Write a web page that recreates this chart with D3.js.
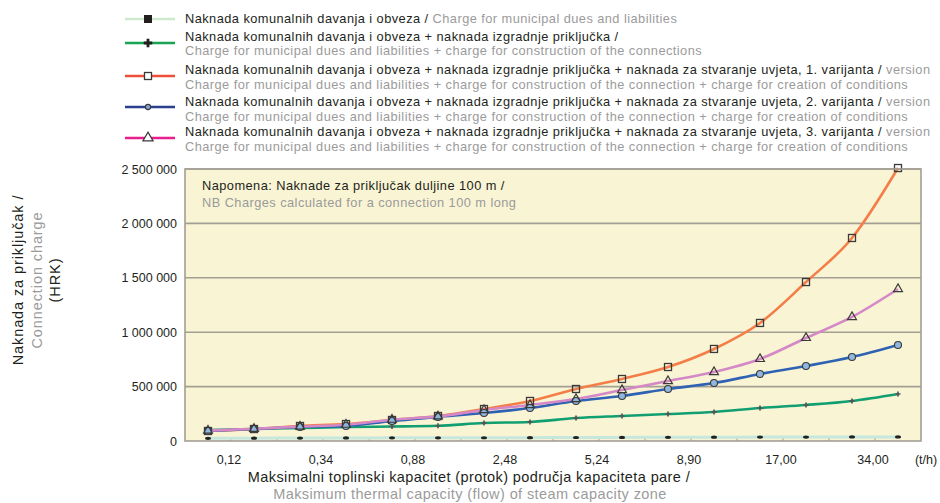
<!DOCTYPE html>
<html>
<head>
<meta charset="utf-8">
<script src="https://cdn.jsdelivr.net/npm/d3@7"></script>
<style>
  body { margin: 0; background: #fff; }
  text { font-family: "Liberation Sans", Arial, Helvetica, sans-serif; }
</style>
</head>
<body>
<div id="chart"></div>
<script>
// data (values in HRK)
const xTickLabels = ["0,12", "0,34", "0,88", "2,48", "5,24", "8,90", "17,00", "34,00"];
const yTicks = [0, 500000, 1000000, 1500000, 2000000, 2500000];

const municipal = [25000, 26000, 27000, 28000, 29000, 29000, 30000, 31000, 32000, 33000, 34000, 35000, 36000, 36000, 37000, 37000];
const withConnection = [101000, 110000, 119000, 129000, 133000, 140000, 165000, 175000, 211000, 230000, 248000, 267000, 303000, 331000, 368000, 432000];
const variant1 = [92000, 110000, 138000, 156000, 193000, 230000, 294000, 368000, 478000, 570000, 680000, 846000, 1085000, 1461000, 1866000, 2509000];
const variant2 = [92000, 110000, 129000, 138000, 184000, 221000, 257000, 303000, 368000, 414000, 478000, 533000, 616000, 689000, 772000, 882000];
const variant3 = [95000, 112000, 132000, 150000, 196000, 226000, 285000, 331000, 386000, 469000, 551000, 634000, 754000, 947000, 1140000, 1397000];

const legendHr = [
  "Naknada komunalnih davanja i obveza / ",
  "Naknada komunalnih davanja i obveza + naknada izgradnje priključka /",
  "Naknada komunalnih davanja i obveza + naknada izgradnje priključka + naknada za stvaranje uvjeta, 1. varijanta / ",
  "Naknada komunalnih davanja i obveza + naknada izgradnje priključka + naknada za stvaranje uvjeta, 2. varijanta / ",
  "Naknada komunalnih davanja i obveza + naknada izgradnje priključka + naknada za stvaranje uvjeta, 3. varijanta / "
];
const legendEnTail = ["Charge for municipal dues and liabilities", "", "version", "version", "version"];
const legendEn = [
  null,
  "Charge for municipal dues and liabilities + charge for construction of the connections",
  "Charge for municipal dues and liabilities + charge for construction of the connection + charge for creation of conditions",
  "Charge for municipal dues and liabilities + charge for construction of the connection + charge for creation of conditions",
  "Charge for municipal dues and liabilities + charge for construction of the connection + charge for creation of conditions"
];

const BLACK = "#231f20", GREY = "#9b9b9b";

const series = [
  { values: municipal,      line: "#c6e7dd", legendLine: "#cfe9cf", marker: "dash" },
  { values: withConnection, line: "#119f72", legendLine: "#17a455", marker: "plus" },
  { values: variant1,       line: "#f47d48", legendLine: "#ef4f3a", marker: "square" },
  { values: variant2,       line: "#2f62b3", legendLine: "#2b3f8f", marker: "circle" },
  { values: variant3,       line: "#d489c6", legendLine: "#ea1f8d", marker: "triangle" }
];

const W = 940, H = 503;
const plot = { left: 185, right: 921, top: 169, bottom: 441 };

const svg = d3.select("#chart").append("svg")
  .attr("width", W)
  .attr("height", H);

const n = municipal.length;
const x = d3.scaleLinear().domain([0, n]).range([plot.left, plot.right]);
const y = d3.scaleLinear().domain([0, 2500000]).range([plot.bottom, plot.top]);

const fmt = d3.formatLocale({ decimal: ",", thousands: " ", grouping: [3], currency: ["", ""] }).format(",d");

// plot background
svg.append("rect")
  .attr("x", plot.left).attr("y", plot.top)
  .attr("width", plot.right - plot.left).attr("height", plot.bottom - plot.top)
  .attr("fill", "#f9f4d4");

// grid lines
svg.append("g").selectAll("line")
  .data(yTicks.filter(d => d > 0))
  .join("line")
  .attr("x1", plot.left).attr("x2", plot.right)
  .attr("y1", d => y(d)).attr("y2", d => y(d))
  .attr("stroke", "#a39f94").attr("stroke-width", 1.6);

// y axis labels
svg.append("g").selectAll("text")
  .data(yTicks)
  .join("text")
  .attr("x", 177).attr("y", d => y(d) + 4.5)
  .attr("text-anchor", "end")
  .attr("font-size", 12.5)
  .attr("fill", BLACK)
  .text(d => fmt(d));

// small category ticks at the bottom
svg.append("g").selectAll("line")
  .data(d3.range(1, n))
  .join("line")
  .attr("x1", d => x(d)).attr("x2", d => x(d))
  .attr("y1", plot.bottom).attr("y2", plot.bottom - 4)
  .attr("stroke", "#a39f94").attr("stroke-width", 1);

// x labels at every second boundary
svg.append("g").selectAll("text")
  .data(xTickLabels)
  .join("text")
  .attr("x", (d, i) => x(2 * i + 1) - 2)
  .attr("y", 464)
  .attr("text-anchor", "middle")
  .attr("font-size", 12.5)
  .attr("fill", BLACK)
  .text(d => d);

svg.append("text")
  .attr("x", 926).attr("y", 464)
  .attr("text-anchor", "middle")
  .attr("font-size", 12.5)
  .attr("fill", BLACK)
  .text("(t/h)");

// lines
const line = d3.line()
  .x((d, i) => x(i + 0.5))
  .y(d => y(d))
  .curve(d3.curveMonotoneX);

series.forEach(s => {
  svg.append("path")
    .datum(s.values)
    .attr("fill", "none")
    .attr("stroke", s.line)
    .attr("stroke-width", s.marker === "dash" ? 3 : 2.6)
    .attr("stroke-linejoin", "round")
    .attr("d", line);
});

// markers
function drawMarker(g, type, px, py, size, inLegend) {
  const dark = "#3a3a3a";
  if (type === "dash") {
    if (inLegend) {
      g.append("rect").attr("x", px - 4).attr("y", py - 4).attr("width", 8).attr("height", 8).attr("fill", BLACK);
    } else {
      g.append("ellipse").attr("cx", px).attr("cy", py).attr("rx", 3).attr("ry", 1.6).attr("fill", "#222");
    }
  } else if (type === "plus") {
    g.append("path")
      .attr("transform", `translate(${px},${py})`)
      .attr("d", d3.symbol(d3.symbolCross, inLegend ? 40 : 14)())
      .attr("fill", inLegend ? BLACK : "#555");
  } else if (type === "square") {
    g.append("rect")
      .attr("x", px - size / 2).attr("y", py - size / 2)
      .attr("width", size).attr("height", size)
      .attr("fill", inLegend ? "#fff" : "none")
      .attr("stroke", dark).attr("stroke-width", 1.3);
  } else if (type === "circle") {
    g.append("circle")
      .attr("cx", px).attr("cy", py).attr("r", inLegend ? 2.6 : size / 2)
      .attr("fill", inLegend ? "#8aa4d4" : "#8fb6de")
      .attr("stroke", dark).attr("stroke-width", 1.1);
  } else if (type === "triangle") {
    g.append("path")
      .attr("transform", `translate(${px},${py})`)
      .attr("d", d3.symbol(d3.symbolTriangle, inLegend ? 45 : 34)())
      .attr("fill", inLegend ? "#fff" : "none")
      .attr("stroke", dark).attr("stroke-width", 1.2);
  }
}

const markerG = svg.append("g");
series.forEach(s => {
  s.values.forEach((v, i) => drawMarker(markerG, s.marker, x(i + 0.5), y(v), 7, false));
});

// plot border
svg.append("rect")
  .attr("x", plot.left).attr("y", plot.top)
  .attr("width", plot.right - plot.left).attr("height", plot.bottom - plot.top)
  .attr("fill", "none")
  .attr("stroke", "#a39f94").attr("stroke-width", 1.6);

// note inside plot
svg.append("text").attr("x", 202).attr("y", 190)
  .attr("font-size", 12.8).attr("letter-spacing", 0.45).attr("fill", BLACK)
  .text("Napomena: Naknade za priključak duljine 100 m /");
svg.append("text").attr("x", 202).attr("y", 207)
  .attr("font-size", 12.8).attr("letter-spacing", 0.45).attr("fill", GREY)
  .text("NB Charges calculated for a connection 100 m long");

// legend
const legendY = [19, 43, 76, 107, 138];
const textY = [[23], [41, 55], [74, 89], [106, 121], [136, 151]];
const legend = svg.append("g");
series.forEach((s, i) => {
  legend.append("line")
    .attr("x1", 125).attr("x2", 175)
    .attr("y1", legendY[i]).attr("y2", legendY[i])
    .attr("stroke", s.legendLine).attr("stroke-width", 2.6);
  drawMarker(legend, s.marker, 148, legendY[i], 7, true);

  const t = legend.append("text")
    .attr("x", 185).attr("y", textY[i][0])
    .attr("font-size", 12.8).attr("letter-spacing", 0.45).attr("fill", BLACK);
  t.append("tspan").text(legendHr[i]);
  if (legendEnTail[i]) t.append("tspan").attr("fill", GREY).text(legendEnTail[i]);
  if (legendEn[i]) {
    legend.append("text")
      .attr("x", 185).attr("y", textY[i][1])
      .attr("font-size", 12.8).attr("letter-spacing", 0.45).attr("fill", GREY)
      .text(legendEn[i]);
  }
});

// y axis title
const yTitle = svg.append("g").attr("transform", "translate(0,280) rotate(-90)");
[["Naknada za priključak /", BLACK, 23], ["Connection charge", GREY, 42], ["(HRK)", BLACK, 60]].forEach(([txt, col, dy]) => {
  yTitle.append("text")
    .attr("x", 0).attr("y", dy)
    .attr("text-anchor", "middle")
    .attr("font-size", 14.5).attr("letter-spacing", 0.9).attr("fill", col)
    .text(txt);
});

// x axis title
svg.append("text").attr("x", 469).attr("y", 482)
  .attr("text-anchor", "middle").attr("font-size", 14.5).attr("letter-spacing", 0.4).attr("fill", BLACK)
  .text("Maksimalni toplinski kapacitet (protok) područja kapaciteta pare /");
svg.append("text").attr("x", 470).attr("y", 499)
  .attr("text-anchor", "middle").attr("font-size", 14.5).attr("letter-spacing", 0.4).attr("fill", GREY)
  .text("Maksimum thermal capacity (flow) of steam capacity zone");
</script>
</body>
</html>
